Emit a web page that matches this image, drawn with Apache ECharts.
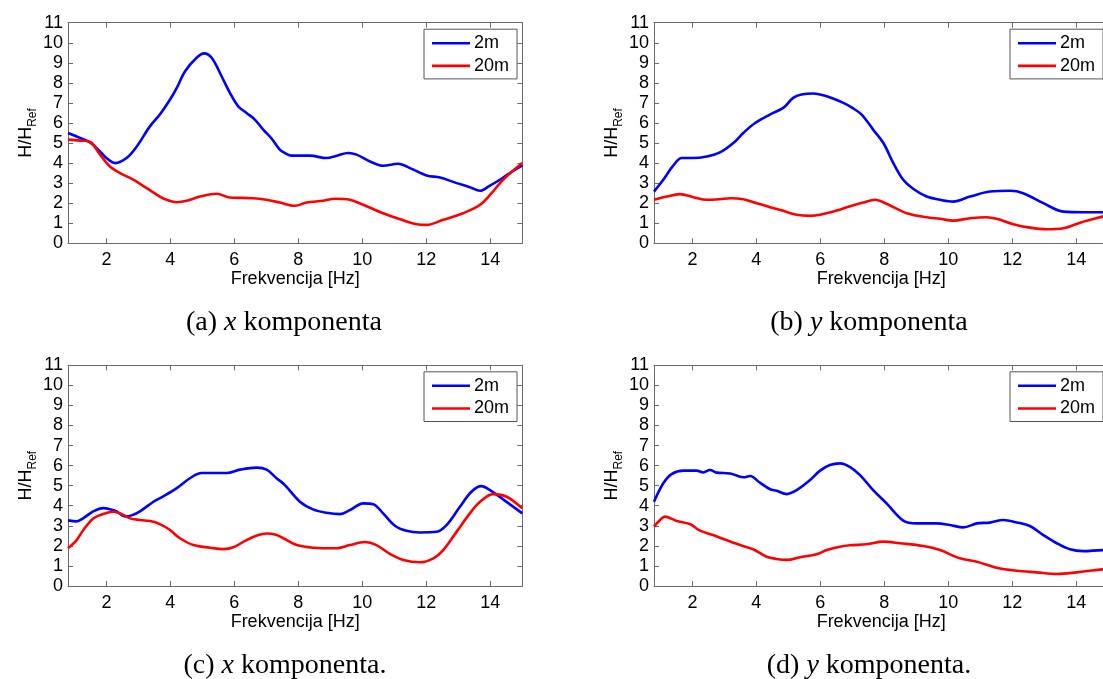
<!DOCTYPE html>
<html><head><meta charset="utf-8">
<script src="https://cdn.jsdelivr.net/npm/echarts@6/dist/echarts.min.js"></script>
<style>html,body{margin:0;padding:0;background:#fff;}#c{width:1103px;height:679px;}</style>
</head><body><div id="c"></div>
<script>
// ---- data ----
const seriesNames = ['2m', '20m'];
const xTicks = [2, 4, 6, 8, 10, 12, 14];
const yTicks = [0,1,2,3,4,5,6,7,8,9,10,11];
const captions = ['(a) {i|x} komponenta', '(b) {i|y} komponenta', '(c) {i|x} komponenta.', '(d) {i|y} komponenta.'];

const aBlueF = [0.8,1.18,1.49,1.8,2.0,2.27,2.63,2.95,3.36,3.67,3.99,4.2,4.46,4.82,5.05,5.29,5.6,5.86,6.12,6.38,6.64,6.9,7.15,7.42,7.58,7.79,8.36,8.88,9.2,9.56,9.82,10.24,10.65,11.12,11.49,12.01,12.43,12.95,13.36,13.68,13.99,14.3,14.61,15.0];
const aBlueV = [5.5,5.25,5.03,4.58,4.25,4.0,4.25,4.83,5.83,6.42,7.17,7.75,8.58,9.25,9.47,9.25,8.33,7.5,6.83,6.5,6.17,5.67,5.25,4.67,4.5,4.37,4.37,4.25,4.37,4.5,4.42,4.08,3.87,3.97,3.75,3.38,3.28,3.0,2.8,2.62,2.88,3.17,3.5,3.88];
const aRedF = [0.8,1.18,1.49,1.8,2.11,2.43,2.84,3.26,3.67,3.88,4.2,4.51,4.93,5.45,5.86,6.59,7.0,7.42,7.89,8.26,8.78,9.14,9.61,10.03,10.65,11.18,11.7,12.01,12.53,13.15,13.68,14.04,14.4,15.0];
const aRedV = [5.17,5.12,5.05,4.42,3.83,3.5,3.17,2.75,2.33,2.17,2.05,2.12,2.33,2.47,2.28,2.25,2.17,2.03,1.87,2.03,2.12,2.22,2.17,1.92,1.5,1.2,0.95,0.92,1.17,1.5,1.92,2.5,3.17,4.0];

const bBlueF = [0.8,1.09,1.4,1.67,2.03,2.45,2.86,3.28,3.59,3.96,4.42,4.84,5.15,5.41,5.78,6.2,6.72,7.0,7.29,7.65,7.97,8.28,8.59,8.9,9.32,9.74,10.15,10.68,11.3,11.93,12.34,12.97,13.6,14.22,15.0];
const bBlueV = [2.58,3.17,3.87,4.25,4.25,4.33,4.53,5.0,5.5,6.0,6.42,6.75,7.25,7.42,7.47,7.33,7.0,6.75,6.42,5.67,5.0,4.0,3.17,2.72,2.33,2.17,2.08,2.33,2.58,2.62,2.5,2.0,1.58,1.55,1.55];
const bRedF = [0.8,1.2,1.61,2.03,2.45,2.86,3.18,3.59,4.01,4.43,4.84,5.26,5.68,5.99,6.51,6.93,7.34,7.71,8.07,8.7,9.32,9.74,10.15,10.68,11.2,11.51,12.03,12.55,13.07,13.6,14.12,14.81,15.0];
const bRedV = [2.17,2.33,2.45,2.3,2.17,2.2,2.25,2.2,2.0,1.8,1.62,1.42,1.37,1.42,1.63,1.85,2.03,2.17,1.97,1.5,1.3,1.22,1.13,1.25,1.3,1.22,0.95,0.78,0.7,0.75,1.03,1.33,1.4];

const cBlueF = [0.8,1.07,1.28,1.59,1.9,2.11,2.32,2.58,2.79,3.05,3.47,3.78,4.2,4.61,4.98,5.34,5.76,6.18,6.7,7.01,7.3,7.58,8.05,8.46,8.88,9.3,9.61,10.03,10.34,10.65,11.02,11.38,11.8,12.32,12.63,13.05,13.41,13.72,13.99,14.4,15.0];
const cBlueV = [3.27,3.22,3.38,3.72,3.88,3.83,3.72,3.47,3.52,3.72,4.2,4.47,4.88,5.37,5.63,5.63,5.63,5.8,5.9,5.8,5.4,5.03,4.2,3.82,3.65,3.58,3.78,4.12,4.08,3.62,3.0,2.75,2.67,2.7,3.03,3.95,4.7,4.98,4.78,4.32,3.62];
const cRedF = [0.8,1.07,1.28,1.59,1.9,2.22,2.43,2.74,3.05,3.47,3.78,3.99,4.3,4.72,5.24,5.65,5.97,6.38,6.75,7.01,7.3,7.53,7.95,8.46,9.19,9.61,10.08,10.44,10.86,11.28,11.8,12.22,12.53,12.95,13.36,13.68,14.09,14.51,15.0];
const cRedV = [1.88,2.29,2.79,3.37,3.59,3.7,3.62,3.37,3.29,3.2,3.0,2.79,2.38,2.04,1.91,1.84,1.93,2.29,2.54,2.62,2.55,2.38,2.04,1.91,1.88,2.04,2.19,2.04,1.6,1.3,1.18,1.38,1.79,2.71,3.62,4.2,4.58,4.45,3.87];

const dBlueF = [0.8,1.09,1.35,1.72,2.13,2.34,2.55,2.76,3.18,3.59,3.8,4.11,4.43,4.63,4.95,5.26,5.68,5.99,6.3,6.61,6.93,7.24,7.65,8.07,8.59,9.01,9.63,10.05,10.47,10.89,11.3,11.72,12.14,12.55,12.97,13.39,13.8,14.22,14.81,15.0];
const dBlueV = [4.2,5.12,5.58,5.75,5.75,5.66,5.78,5.65,5.61,5.42,5.48,5.15,4.82,4.75,4.58,4.78,5.28,5.75,6.03,6.11,5.93,5.53,4.78,4.12,3.26,3.12,3.12,3.04,2.92,3.12,3.16,3.29,3.17,2.99,2.54,2.13,1.83,1.74,1.79,1.79];
const dRedF = [0.8,0.99,1.14,1.51,1.92,2.24,2.65,2.97,3.49,3.9,4.32,4.63,4.95,5.36,5.88,6.2,6.61,6.93,7.45,7.97,8.49,9.22,9.74,10.36,10.89,11.51,12.14,12.76,13.39,14.01,14.81,15.0];
const dRedV = [2.96,3.29,3.46,3.24,3.09,2.76,2.54,2.34,2.04,1.83,1.46,1.35,1.3,1.43,1.58,1.79,1.96,2.03,2.08,2.21,2.13,1.99,1.79,1.38,1.21,0.91,0.76,0.68,0.6,0.68,0.83,0.86];

const panelData = [
  [[aBlueF, aBlueV], [aRedF, aRedV]],
  [[bBlueF, bBlueV], [bRedF, bRedV]],
  [[cBlueF, cBlueV], [cRedF, cRedV]],
  [[dBlueF, dBlueV], [dRedF, dRedV]]
];

// ---- layout ----
const SANS = 'Liberation Sans, Arial, sans-serif';
const SERIF = 'Liberation Serif, Times New Roman, serif';
const AX = '#6a6a6a';
const FS = 18;
const grids = [
  {left: 68, top: 22.7, width: 454.3, height: 220.6},
  {left: 654, top: 22.7, width: 454.3, height: 220.6},
  {left: 68, top: 365.3, width: 454.3, height: 220.7},
  {left: 654, top: 365.3, width: 454.3, height: 220.7}
];
const zip = (f, v) => f.map((x, i) => [x, v[i]]);

const xAxes = [], yAxes = [], series = [], legends = [];
grids.forEach((g, i) => {
  g.containLabel = false;
  g.outerBoundsMode = 'none';
  xAxes.push({
    type: 'value', gridIndex: i, min: 0.8, max: 15, position: 'bottom',
    name: 'Frekvencija [Hz]', nameLocation: 'middle', nameGap: 27,
    nameTextStyle: {fontFamily: SANS, fontSize: FS, color: '#000'},
    axisLine: {show: true, onZero: false, lineStyle: {color: AX, width: 1}},
    axisTick: {show: true, inside: true, length: 5, customValues: xTicks, lineStyle: {color: AX}},
    axisLabel: {show: true, customValues: xTicks, margin: 8, fontFamily: SANS, fontSize: FS, color: '#000'},
    splitLine: {show: false}
  });
  yAxes.push({
    type: 'value', gridIndex: i, min: 0, max: 11, interval: 1, position: 'left',
    name: 'H/H{s|Ref}', nameLocation: 'middle', nameRotate: 90, nameGap: 38,
    nameTextStyle: {fontFamily: SANS, fontSize: FS, color: '#000', verticalAlign: 'top',
      rich: {s: {fontFamily: SANS, fontSize: 12, color: '#000', verticalAlign: 'top', padding: [15, 0, 0, 0]}}},
    axisLine: {show: true, onZero: false, lineStyle: {color: AX, width: 1}},
    axisTick: {show: true, inside: true, length: 5, lineStyle: {color: AX}},
    axisLabel: {show: true, margin: 5, fontFamily: SANS, fontSize: FS, color: '#000'},
    splitLine: {show: false}
  });
});
grids.forEach((g, i) => {
  xAxes.push({
    type: 'value', gridIndex: i, min: 0.8, max: 15, position: 'top',
    axisLine: {show: true, onZero: false, lineStyle: {color: AX, width: 1}},
    axisTick: {show: true, inside: true, length: 5, customValues: xTicks, lineStyle: {color: AX}},
    axisLabel: {show: false}, splitLine: {show: false}
  });
  yAxes.push({
    type: 'value', gridIndex: i, min: 0, max: 11, interval: 1, position: 'right',
    axisLine: {show: true, onZero: false, lineStyle: {color: AX, width: 1}},
    axisTick: {show: true, inside: true, length: 5, lineStyle: {color: AX}},
    axisLabel: {show: false}, splitLine: {show: false}
  });
});
const colors = ['#0000ff', '#ff0000'];
panelData.forEach((pd, i) => {
  pd.forEach((s, k) => {
    series.push({
      type: 'line', name: seriesNames[k], xAxisIndex: i, yAxisIndex: i,
      data: zip(s[0], s[1]), smooth: 0.35, showSymbol: false, symbol: 'none',
      lineStyle: {color: colors[k], width: 2.6}, itemStyle: {color: colors[k]},
      clip: true, animation: false
    });
  });
  const g = grids[i];
  legends.push({
    data: seriesNames, orient: 'vertical',
    left: g.left + 356, top: g.top + 6.5,
    backgroundColor: '#fff', borderColor: '#555', borderWidth: 1,
    padding: [5, 8, 4, 8], itemGap: 4.7, itemWidth: 38, itemHeight: 2.6,
    icon: 'rect', selectedMode: false,
    textStyle: {fontFamily: SANS, fontSize: FS, color: '#000', lineHeight: 18, padding: [0, 0, 0, -1]}
  });
});
const capPos = [[284, 323], [869, 323], [285, 666], [869, 666]];
const gfx = captions.map((c, i) => ({
  type: 'text', x: capPos[i][0], y: capPos[i][1],
  style: {
    text: c, fontFamily: SERIF, fontSize: 28, fill: '#000',
    align: 'center', verticalAlign: 'middle',
    rich: {i: {fontFamily: SERIF, fontSize: 28, fontStyle: 'italic', fill: '#000'}}
  }
}));

const chart = echarts.init(document.getElementById('c'), null, {renderer: 'canvas'});
chart.setOption({
  animation: false,
  backgroundColor: '#fff',
  grid: grids, xAxis: xAxes, yAxis: yAxes, series: series, legend: legends,
  graphic: gfx
});
</script></body></html>
